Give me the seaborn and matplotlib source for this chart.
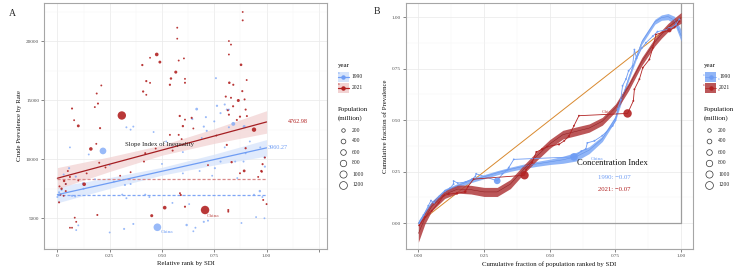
import numpy as np
import pandas as pd
import matplotlib
matplotlib.use("Agg")
import matplotlib.pyplot as plt
import seaborn as sns
from matplotlib.lines import Line2D
from matplotlib.patches import Rectangle

# ---------------- data ----------------
# Panel A : relative SDI rank, crude prevalence rate, population (million)
sdi_1990 = [0.478, 0.218, 0.841, 0.893, 0.666, 0.968, 0.618, 0.763, 0.758, 0.700, 0.645, 0.363,
            0.800, 0.810, 0.710, 0.750, 0.780, 0.820, 0.056, 0.088, 0.030, 0.122, 0.125, 0.008,
            0.000, 0.070, 0.085, 0.323, 0.350, 0.310, 0.330, 0.319, 0.363, 0.330, 0.350, 0.420,
            0.440, 0.700, 0.720, 0.660, 0.650, 0.992, 0.990, 0.753, 0.780, 0.850, 0.890, 0.714,
            0.820, 0.100, 0.090, 0.250, 0.500, 0.550, 0.600, 0.690, 0.920, 0.970, 0.950, 0.990,
            0.980, 0.630, 0.550, 0.250, 0.150, 0.060, 0.040, 0.020, 0.180, 0.270, 0.600, 0.860,
            0.900, 0.940, 0.680, 0.740, 0.520, 0.460, 0.800, 0.880]
prev_1990 = [4240, 10700, 12990, 12760, 14240, 7300, 4430, 14520, 16860, 12760, 13400, 12760,
             14630, 14200, 13560, 13200, 13900, 14200, 9240, 8530, 8700, 7950, 7500, 7200,
             6800, 6900, 6850, 7820, 7900, 7000, 6700, 4100, 4520, 12700, 12500, 7000,
             6800, 4700, 4800, 4200, 3900, 9370, 10150, 9240, 9800, 9800, 9800, 12400,
             12700, 4400, 4000, 9500, 9600, 11000, 10600, 11800, 11500, 11000, 5100, 5000,
             6800, 6200, 6300, 3800, 10400, 11000, 7900, 7400, 8300, 8100, 8800, 8400,
             10500, 7000, 9000, 8600, 11500, 12300, 11000, 4600]
pop_1990 = [1150, 870, 250, 125, 100, 60, 60, 40, 20, 30, 30, 15,
            25, 20, 25, 20, 25, 20, 30, 30, 20, 30, 25, 20,
            15, 25, 20, 30, 20, 20, 15, 25, 20, 15, 10, 20,
            15, 30, 20, 15, 10, 30, 20, 25, 20, 15, 15, 25,
            20, 10, 8, 10, 10, 10, 10, 10, 10, 10, 8, 8,
            10, 10, 10, 8, 10, 8, 15, 10, 10, 8, 8, 10,
            10, 8, 10, 8, 8, 8, 10, 8]

sdi_2021 = [0.706, 0.308, 0.940, 0.475, 0.490, 0.566, 0.878, 0.865, 0.513, 0.451, 0.160, 0.128,
            0.100, 0.893, 0.822, 0.543, 0.406, 0.410, 0.425, 0.538, 0.070, 0.194, 0.585, 0.600,
            0.204, 0.590, 0.191, 0.032, 0.020, 0.008, 0.810, 0.900, 0.833, 0.975, 0.981, 0.992,
            0.984, 0.610, 0.817, 0.642, 0.610, 0.840, 0.900, 0.815, 0.820, 0.873, 0.906, 0.858,
            0.884, 0.805, 0.830, 0.895, 0.841, 0.886, 0.886, 0.573, 0.573, 0.820, 0.830, 0.820,
            0.905, 0.443, 0.605, 0.580, 0.610, 0.443, 0.425, 0.210, 0.188, 0.179, 0.080, 0.610,
            0.186, 0.200, 0.414, 0.083, 0.090, 0.060, 0.070, 0.050, 0.060, 0.015, 0.040, 0.100,
            0.140, 0.300, 0.420, 0.551, 0.594, 0.538, 0.580, 0.873, 0.977, 1.000, 0.586, 0.817,
            0.040, 0.010, 0.230, 0.350, 0.470, 0.650, 0.720, 0.760, 0.960, 0.030]
prev_2021 = [5700, 13700, 12500, 18865, 18220, 17370, 17990, 14970, 5900, 5220, 10870, 7880,
             12820, 9010, 16470, 16830, 17970, 15730, 16610, 16300, 14290, 14710, 13660, 12800,
             12630, 6970, 5280, 8160, 7500, 6350, 11210, 10930, 9750, 9000, 9580, 10140,
             6550, 5980, 5700, 13500, 16470, 14480, 14200, 14140, 13770, 13600, 13650, 13320,
             15760, 15300, 15200, 15060, 16300, 21750, 22460, 21130, 20200, 20000, 19700, 18860,
             16700, 18585, 18530, 18350, 16800, 16460, 15450, 16240, 15560, 14410, 13300, 13350,
             11300, 9700, 9800, 5050, 4700, 4200, 4200, 9000, 8500, 7000, 7300, 8200,
             8800, 8600, 10510, 10730, 11700, 12060, 12060, 8810, 8950, 6200, 7120, 5560,
             7900, 7700, 9300, 8900, 10900, 12600, 9500, 12000, 8500, 6900]
pop_2021 = [1420, 1400, 335, 215, 110, 130, 80, 125, 220, 130, 200, 210,
            110, 100, 70, 60, 40, 40, 35, 40, 25, 25, 40, 50,
            30, 25, 20, 60, 50, 25, 30, 40, 50, 40, 30, 20,
            15, 30, 25, 30, 20, 30, 25, 20, 25, 35, 20, 25,
            30, 25, 20, 20, 30, 15, 5, 10, 5, 5, 8, 8,
            10, 5, 8, 10, 8, 10, 8, 8, 15, 10, 8, 10,
            10, 15, 15, 8, 8, 6, 6, 15, 20, 15, 20, 10,
            10, 8, 20, 20, 10, 15, 15, 15, 40, 15, 15, 15,
            20, 15, 8, 8, 10, 8, 8, 10, 10, 10]

# Panel A fit results (intercept, slope index of inequality) and CI half-widths
sii_years = ["1990", "2021"]
sii_intercept = [7000.0, 8390.0]
sii_slope = [3960.27, 4762.98]
ci_x = [0.0, 0.25, 0.5, 0.75, 1.0]
ci_half_1990 = [690, 460, 330, 460, 700]
ci_half_2021 = [900, 620, 430, 620, 950]
mean_level = [6950, 8330]

# Panel B : concentration curve points (cum. population, cum. prevalence, population)
cc_x_1990 = [0.003, 0.020, 0.038, 0.048, 0.060, 0.080, 0.102, 0.120, 0.134, 0.134, 0.150, 0.180,
             0.204, 0.217, 0.220, 0.300, 0.320, 0.340, 0.344, 0.363, 0.592, 0.620, 0.637,
             0.643, 0.670, 0.700, 0.739, 0.750, 0.758, 0.770, 0.777, 0.790, 0.800, 0.815, 0.822,
             0.830, 0.850, 0.866, 0.892, 0.910, 0.955, 0.980, 0.993]
cc_y_1990 = [0.000, 0.040, 0.085, 0.110, 0.100, 0.130, 0.157, 0.170, 0.190, 0.205, 0.195, 0.200,
             0.214, 0.227, 0.240, 0.206, 0.240, 0.260, 0.270, 0.310, 0.322, 0.350, 0.360,
             0.390, 0.400, 0.425, 0.473, 0.500, 0.554, 0.600, 0.667, 0.700, 0.740, 0.763, 0.843,
             0.800, 0.850, 0.876, 0.908, 0.930, 0.943, 0.964, 0.990]
cc_pop_1990 = [10, 20, 15, 10, 15, 15, 20, 10, 10, 3, 10, 10,
               15, 10, 5, 870, 15, 20, 10, 5, 1150, 15, 20,
               5, 20, 15, 20, 10, 15, 10, 15, 10, 15, 15, 5,
               15, 15, 20, 20, 15, 250, 15, 10]

cc_x_2021 = [0.003, 0.026, 0.051, 0.077, 0.096, 0.115, 0.147, 0.178, 0.190, 0.210, 0.404, 0.410,
             0.433, 0.449, 0.471, 0.490, 0.535, 0.555, 0.573, 0.592, 0.611, 0.796, 0.818, 0.822,
             0.841, 0.854, 0.879, 0.892, 0.904, 0.955, 0.975, 0.993]
cc_y_2021 = [-0.010, 0.030, 0.060, 0.100, 0.133, 0.142, 0.145, 0.153, 0.180, 0.214, 0.233, 0.260,
             0.295, 0.346, 0.359, 0.372, 0.383, 0.400, 0.423, 0.473, 0.522, 0.533, 0.594, 0.650,
             0.699, 0.755, 0.795, 0.852, 0.916, 0.937, 0.950, 0.980]
cc_pop_2021 = [10, 20, 20, 15, 20, 60, 80, 100, 20, 15, 1400, 5,
               20, 20, 40, 30, 40, 10, 30, 10, 5, 1420, 10, 15,
               20, 15, 20, 15, 10, 335, 20, 20]

# Panel B smooth fits (centre and CI half-width)
fit_x = [0.0, 0.025, 0.05, 0.1, 0.15, 0.2, 0.25, 0.3, 0.35, 0.4, 0.45, 0.5, 0.55, 0.6, 0.65,
         0.7, 0.75, 0.8, 0.85, 0.9, 0.925, 0.95, 0.975, 1.0]
fit_y_1990 = [0.000, 0.050, 0.095, 0.155, 0.183, 0.207, 0.226, 0.245, 0.262, 0.276, 0.288, 0.298,
              0.308, 0.323, 0.355, 0.410, 0.510, 0.705, 0.880, 0.978, 0.998, 1.003, 0.985, 0.910]
fit_se_1990 = [0.013, 0.011, 0.011, 0.011, 0.010, 0.010, 0.010, 0.010, 0.010, 0.011, 0.012, 0.013,
               0.017, 0.021, 0.017, 0.013, 0.012, 0.012, 0.012, 0.012, 0.013, 0.015, 0.019, 0.027]
fit_y_2021 = [-0.050, 0.025, 0.080, 0.140, 0.166, 0.163, 0.152, 0.152, 0.190, 0.260, 0.325, 0.385,
              0.430, 0.446, 0.462, 0.495, 0.560, 0.663, 0.785, 0.880, 0.917, 0.950, 0.975, 0.997]
fit_se_2021 = [0.042, 0.028, 0.022, 0.020, 0.020, 0.021, 0.022, 0.022, 0.022, 0.021, 0.021, 0.021,
               0.021, 0.021, 0.020, 0.019, 0.019, 0.019, 0.019, 0.019, 0.019, 0.020, 0.022, 0.026]

conc_index = ["\u22120.07", "\u22120.07"]
legend_pops = [200, 400, 600, 800, 1000, 1200]

# ---------------- style ----------------
sns.set_theme(style="whitegrid")
plt.rcParams['font.family'] = ['Liberation Serif', 'DejaVu Serif']
plt.rcParams['axes.unicode_minus'] = True

BLUE = "#6F9DF4"
BLUE_PT = "#80A9F7"
RED = "#B22222"
RED_LINE = "#A41E22"
ORANGE = "#D9892E"
W, H = 735, 268
SIZES = (1.6, 37.0)
SNORM = (0, 1420)

fig = plt.figure(figsize=(W / 100, H / 100), dpi=100)
fig.patch.set_facecolor("white")


def axes_px(l, t, r, b):
    return fig.add_axes([l / W, 1 - b / H, (r - l) / W, (b - t) / H])


def style_axes(ax):
    ax.set_facecolor("white")
    for s in ax.spines.values():
        s.set_color("#A6A6A6")
        s.set_linewidth(0.8)
    ax.grid(True, which="major", color="#EBEBEB", lw=0.55)
    ax.grid(True, which="minor", color="#F5F5F5", lw=0.35)
    ax.set_axisbelow(True)
    ax.tick_params(which="major", length=2, width=0.5, color="#555555",
                   labelsize=3.7, labelcolor="#4D4D4D", pad=1.5, bottom=True, left=True)
    ax.tick_params(which="minor", length=0)


# ================= Panel A =================
axA = axes_px(44, 3, 327, 249)
style_axes(axA)

dfA = pd.concat([
    pd.DataFrame({"x": sdi_1990, "y": prev_1990, "pop": pop_1990, "year": "1990"}),
    pd.DataFrame({"x": sdi_2021, "y": prev_2021, "pop": pop_2021, "year": "2021"}),
])

band_cols = {"1990": "#D6E4FB", "2021": "#F2D3D3"}
line_cols = {"1990": BLUE, "2021": RED_LINE}
dash_cols = {"1990": "#7FA6F6", "2021": "#D98A8A"}
ci_halfs = {"1990": ci_half_1990, "2021": ci_half_2021}
for yr, b0, b1 in zip(sii_years, sii_intercept, sii_slope):
    cx = np.array(ci_x)
    cy = b0 + b1 * cx
    hw = np.array(ci_halfs[yr])
    axA.fill_between(cx, cy - hw, cy + hw, color=band_cols[yr], alpha=0.75, lw=0, zorder=1)
for yr, m in zip(sii_years, mean_level):
    axA.plot([0, 1], [m, m], ls=(0, (2.5, 1.5)), lw=0.9, color=dash_cols[yr], zorder=2)

sns.scatterplot(data=dfA[dfA.year == "1990"], x="x", y="y", size="pop", sizes=SIZES,
                size_norm=SNORM, color=BLUE_PT, alpha=0.8, edgecolor="none", legend=False,
                ax=axA, zorder=3)
sns.scatterplot(data=dfA[dfA.year == "2021"], x="x", y="y", size="pop", sizes=SIZES,
                size_norm=SNORM, color=RED, alpha=0.9, edgecolor="none", legend=False,
                ax=axA, zorder=4)

for yr, b0, b1 in zip(sii_years, sii_intercept, sii_slope):
    sns.lineplot(x=[0.0, 1.0], y=[b0, b0 + b1], color=line_cols[yr], lw=0.9, ax=axA, zorder=5)

axA.text(0.49, 11300, "Slope Index of Inequality", fontsize=4.9, ha="center", va="center",
         color="#222222", zorder=6)
axA.text(1.10, sii_intercept[1] + sii_slope[1], f"{sii_slope[1]:.2f}", fontsize=4.4,
         color=RED, ha="left", va="center", zorder=6)
axA.text(1.005, sii_intercept[0] + sii_slope[0], f"{sii_slope[0]:.2f}", fontsize=4.4,
         color=BLUE, ha="left", va="center", zorder=6)
axA.text(0.745, 5220, "China", fontsize=3.8, color="#C0504D", ha="center", va="center", zorder=6)
axA.text(0.522, 3840, "China", fontsize=3.8, color=BLUE, ha="center", va="center", zorder=6)

axA.set_xlim(-0.064, 1.289)
axA.set_ylim(2400, 23220)
axA.set_xticks([0, 0.25, 0.5, 0.75, 1.0, 1.25])
axA.set_xticklabels(["0", "0.25", "0.50", "0.75", "1.00", ""])
axA.set_xticks(np.arange(-0.125, 1.3, 0.125)[1:], minor=True)
axA.set_yticks([5000, 10000, 15000, 20000])
axA.set_yticklabels(["5000", "10000", "15000", "20000"])
axA.set_yticks([2500, 7500, 12500, 17500, 22500], minor=True)
axA.set_xlabel("Relative rank by SDI", fontsize=4.9, color="#111111", labelpad=2.5)
axA.set_ylabel("Crude Prevalence by Rate", fontsize=4.9, color="#111111", labelpad=3)

# ================= Panel B =================
axB = axes_px(406, 3, 693, 249)
style_axes(axB)

axB.plot([0, 1], [0, 0], color="#9E9E9E", lw=0.9, zorder=1)
axB.plot([1, 1], [0, 1.2], color="#9E9E9E", lw=0.9, zorder=1)
sns.lineplot(x=[0.0, 1.0], y=[0.0, 1.0], color=ORANGE, lw=0.7, ax=axB, zorder=2)

fx = np.array(fit_x)
for fy, fse, col, lc in [(fit_y_1990, fit_se_1990, "#7DA8F6", "#5F8FE8"),
                         (fit_y_2021, fit_se_2021, "#B03A3C", "#8E1F22")]:
    fy = np.array(fy)
    fse = np.array(fse)
    axB.fill_between(fx, fy - fse, fy + fse, color=col, alpha=0.85, lw=0, zorder=3)
    sns.lineplot(x=fx, y=fy, color=lc, lw=0.35, sort=False, ax=axB, zorder=4)

dfB = pd.concat([
    pd.DataFrame({"x": cc_x_1990, "y": cc_y_1990, "pop": cc_pop_1990, "year": "1990"}),
    pd.DataFrame({"x": cc_x_2021, "y": cc_y_2021, "pop": cc_pop_2021, "year": "2021"}),
])
for yr, col in [("1990", "#6E9CF4"), ("2021", "#B22222")]:
    d = dfB[dfB.year == yr]
    sns.lineplot(data=d, x="x", y="y", sort=False, color=col, lw=0.6, ax=axB, zorder=5,
                 estimator=None)
    sns.scatterplot(data=d, x="x", y="y", size="pop", sizes=SIZES, size_norm=SNORM,
                    color=col, alpha=0.9, edgecolor="none", legend=False, ax=axB, zorder=6)

axB.text(0.723, 0.541, "China", fontsize=3.8, color="#C0504D", ha="center", va="center", zorder=7)
axB.text(0.679, 0.314, "China", fontsize=3.8, color=BLUE, ha="center", va="center", zorder=7)
axB.text(0.739, 0.291, "Concentration Index", fontsize=6.2, color="#111111",
         ha="center", va="center", zorder=7)
axB.text(0.744, 0.224, f"1990: {conc_index[0]}", fontsize=4.9, color=BLUE,
         ha="center", va="center", zorder=7)
axB.text(0.744, 0.162, f"2021: {conc_index[1]}", fontsize=4.9, color=RED,
         ha="center", va="center", zorder=7)

axB.set_xlim(-0.047, 1.045)
axB.set_ylim(-0.119, 1.069)
ticks = [0, 0.25, 0.5, 0.75, 1.0]
axB.set_xticks(ticks)
axB.set_xticklabels([f"{t:.2f}" for t in ticks])
axB.set_yticks(ticks)
axB.set_yticklabels([f"{t:.2f}" for t in ticks])
axB.set_xticks([0.125, 0.375, 0.625, 0.875], minor=True)
axB.set_yticks([-0.125, 0.125, 0.375, 0.625, 0.875], minor=True)
axB.set_xlabel("Cumulative fraction of population ranked by SDI", fontsize=4.9,
               color="#111111", labelpad=2.5)
axB.set_ylabel("Cumulative fraction of Prevalence", fontsize=4.9, color="#111111", labelpad=3)

# ---------------- panel letters ----------------
fig.text(12 / W, 1 - 13 / H, "A", fontsize=7, ha="center", va="center")
fig.text(377 / W, 1 - 12 / H, "B", fontsize=7, ha="center", va="center")


# ---------------- legends (drawn in figure pixels) ----------------
def ftext(px, py, s, **kw):
    fig.text(px / W, 1 - py / H, s, **kw)


def fline(xs, ys, **kw):
    fig.add_artist(Line2D([x / W for x in xs], [1 - y / H for y in ys],
                          transform=fig.transFigure, **kw))


def frect(l, t, r, b, **kw):
    fig.add_artist(Rectangle((l / W, 1 - b / H), (r - l) / W, (b - t) / H,
                             transform=fig.transFigure, **kw))


def size_diam(p):
    s = SIZES[0] + (SIZES[1] - SIZES[0]) * p / SNORM[1]
    return np.sqrt(s)


for x0, kind in [(337.5, "A"), (703.5, "B")]:
    ftext(x0, 66, "year", fontsize=5, ha="left", va="center", color="#111111")
    for yr, yc, bc, lc in [("1990", 76.5, "#D6E4FB", BLUE), ("2021", 87.5, "#F2D3D3", RED)]:
        if kind == "A":
            frect(x0, yc - 5, x0 + 11, yc + 5, color=bc, lw=0)
            fline([x0, x0 + 11], [yc, yc], color=lc, lw=0.9)
            fline([x0 + 5.5], [yc], marker="o", ms=2.2, color=lc, lw=0)
            ftext(x0 + 0.5, yc - 3.5, "a", fontsize=2.4, color=lc, ha="left", va="center")
            ftext(x0 + 14.5, yc, yr, fontsize=4.1, ha="left", va="center", color="#222222")
        else:
            fc = "#7DA8F6" if yr == "1990" else "#B03A3C"
            frect(x0 + 1.5, yc - 5, x0 + 12.5, yc + 5, color=fc, alpha=0.85, lw=0)
            fline([x0 + 1.5, x0 + 12.5], [yc, yc], color=lc, lw=0.5)
            fline([x0 + 7], [yc], marker="o", ms=2.2, color=lc, lw=0)
            ftext(x0 - 0.5, yc - 2, "a", fontsize=2.4, color=lc, ha="left", va="center")
            ftext(x0 + 14, yc + 2.5, "a", fontsize=2.4, color=lc, ha="left", va="center")
            ftext(x0 + 15.5, yc, yr, fontsize=4.1, ha="left", va="center", color="#222222")
    ftext(x0, 110, "Population", fontsize=5, ha="left", va="center", color="#111111")
    ftext(x0, 118.5, "(million)", fontsize=5, ha="left", va="center", color="#111111")
    cx = x0 + 5.5
    for i, p in enumerate(legend_pops):
        yc = 130 + i * 11
        fline([cx], [yc], marker="o", ms=size_diam(p), mfc="none", mec="#333333", mew=0.5, lw=0)
        ftext(x0 + 14.5, yc, str(p), fontsize=4.0, ha="left", va="center", color="#222222")

fig.savefig("out.png", dpi=100, facecolor="white")
